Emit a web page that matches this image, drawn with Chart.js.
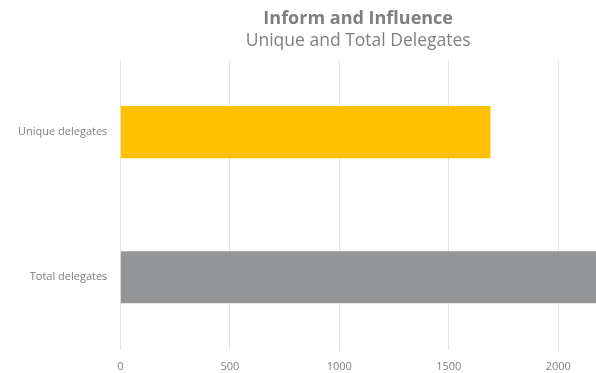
<!DOCTYPE html>
<html>
<head>
<meta charset="utf-8">
<script src="https://cdn.jsdelivr.net/npm/chart.js@4"></script>
<style>
  html, body { margin: 0; padding: 0; background: #fff; }
  #wrap { width: 596px; height: 373px; }
</style>
</head>
<body>
<div id="wrap"><canvas id="chart"></canvas></div>
<script>
// ── Data ─────────────────────────────────────────────────────
const categories = ["Unique delegates", "Total delegates"];
const delegateCounts = [1690, 2200];
const barColors = ["#FFC000", "#949597"];
const tickValues = [0, 500, 1000, 1500, 2000];
const axisMax = 2172;

const grey = "#7f7f7f";
const fontFamily = "'Open Sans', 'Noto Sans', sans-serif";

// ── Chart ────────────────────────────────────────────────────
const ctx = document.getElementById("chart").getContext("2d");
new Chart(ctx, {
    type: "bar",
    data: {
        labels: categories,
        datasets: [{
            data: delegateCounts,
            backgroundColor: barColors,
            borderWidth: 0,
            categoryPercentage: 1,
            barPercentage: 0.36,
        }]
    },
    options: {
        indexAxis: "y",
        responsive: true,
        maintainAspectRatio: false,
        animation: false,
        layout: { padding: { top: 8, right: 0, left: 13, bottom: -10 } },
        plugins: {
            legend: { display: false },
            tooltip: { enabled: false },
            title: {
                display: true,
                text: "Inform and Influence",
                fullSize: false,
                color: grey,
                font: { family: fontFamily, size: 18, weight: "bold" },
                padding: { top: 0, bottom: 1 }
            },
            subtitle: {
                display: true,
                text: "Unique and Total Delegates",
                fullSize: false,
                color: grey,
                font: { family: fontFamily, size: 17.5, weight: "normal" },
                padding: { top: 0, bottom: 8 }
            }
        },
        scales: {
            x: {
                min: 0,
                max: axisMax,
                afterBuildTicks: axis => { axis.ticks = tickValues.map(v => ({ value: v })); },
                grid: { color: "#e2e2e2", drawTicks: false },
                border: { display: false },
                ticks: {
                    color: grey,
                    padding: 10,
                    callback: v => String(v),
                    font: { family: fontFamily, size: 11 }
                }
            },
            y: {
                grid: { display: false },
                border: { display: false },
                ticks: {
                    color: grey,
                    padding: 5,
                    font: { family: fontFamily, size: 11 }
                }
            }
        }
    }
});
</script>
</body>
</html>
